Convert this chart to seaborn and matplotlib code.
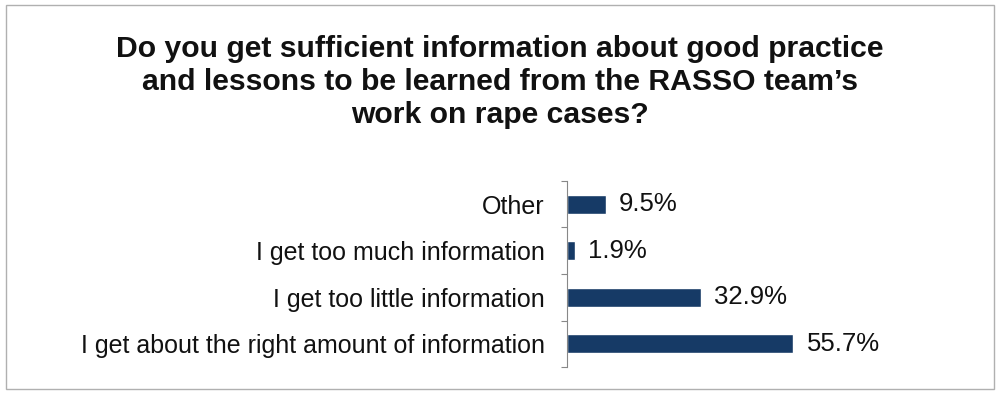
import matplotlib
matplotlib.use("Agg")
import matplotlib.pyplot as plt
import seaborn as sns
import pandas as pd
from matplotlib.patches import Rectangle

categories = [
    "Other",
    "I get too much information",
    "I get too little information",
    "I get about the right amount of information",
]
values = [9.5, 1.9, 32.9, 55.7]
value_labels = ["9.5%", "1.9%", "32.9%", "55.7%"]

title = ("Do you get sufficient information about good practice\n"
         "and lessons to be learned from the RASSO team\u2019s\n"
         "work on rape cases?")

sns.set_style("white")
plt.rcParams["font.family"] = ["Liberation Sans", "DejaVu Sans"]

df = pd.DataFrame({"category": categories, "value": values})

fig = plt.figure(figsize=(10, 3.94), dpi=100)
ax = fig.add_axes([0.567, 1 - 367 / 394, 0.406, 186 / 394])

sns.barplot(data=df, y="category", x="value", orient="h", color="#163a66",
            saturation=1, width=0.4, ax=ax)

ax.set_xlim(0, 100)
ax.set_ylim(3.5, -0.5)
ax.set_xlabel("")
ax.set_ylabel("")
ax.set_xticks([])
ax.set_yticks([i - 0.5 for i in range(len(categories) + 1)], minor=False)
ax.set_yticklabels([])
ax.set_yticks(range(len(categories)), minor=True)
ax.set_yticklabels(categories, minor=True, fontsize=18, color="#111111")
ax.tick_params(axis="y", which="major", length=4, width=0.8, color="#888888",
               left=True, direction="out")
ax.tick_params(axis="y", which="minor", length=0, pad=16)
for s in ["top", "right", "bottom"]:
    ax.spines[s].set_visible(False)
ax.spines["left"].set_color("#888888")
ax.spines["left"].set_linewidth(0.8)

for i, (v, lab) in enumerate(zip(values, value_labels)):
    ax.text(v + 3.3, i, lab, va="center", ha="left", fontsize=18.5,
            color="#111111")

fig.text(0.5, 1 - 82 / 394, title, ha="center", va="center",
         fontsize=21.7, fontweight="bold", linespacing=1.22, color="#111111")

fig.patches.append(Rectangle((0.006, 0.012), 0.988, 0.975,
                             transform=fig.transFigure, fill=False,
                             edgecolor="#b0b0b0", linewidth=1.0))

fig.savefig("out.png", dpi=100)
